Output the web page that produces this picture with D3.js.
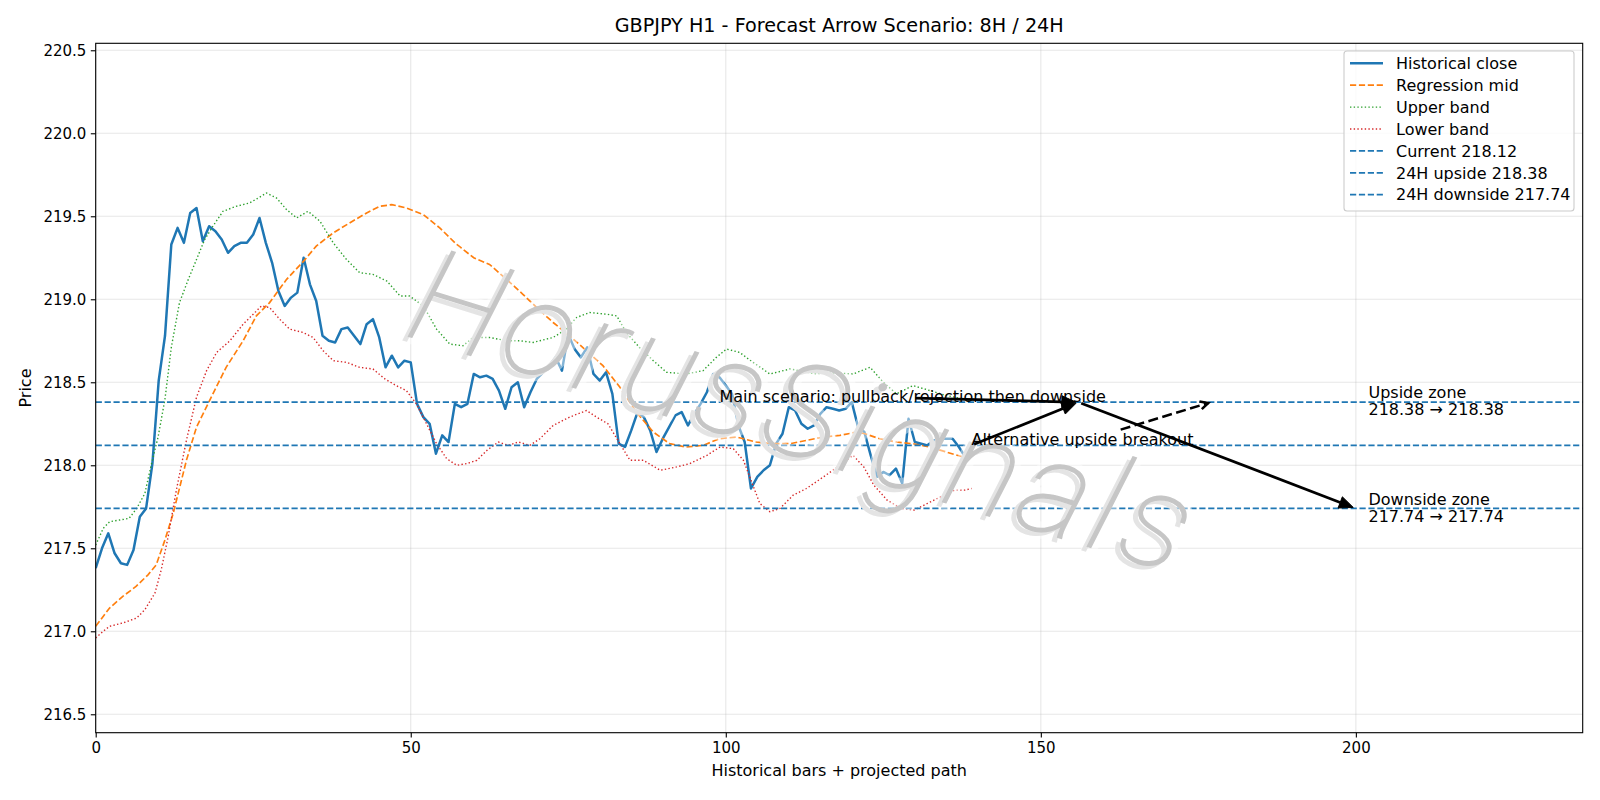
<!DOCTYPE html>
<html>
<head>
<meta charset="utf-8">
<script src="https://cdn.jsdelivr.net/npm/d3@7/dist/d3.min.js"></script>
<style>
  html, body { margin: 0; padding: 0; background: #fff; }
  svg { display: block; font-family: "DejaVu Sans", sans-serif; }
</style>
</head>
<body>
<div id="chart"></div>
<script>
// GBPJPY H1 forecast arrow scenario — matplotlib-style line chart in D3

// ── Data ──
const closePrices = [
  217.38, 217.50, 217.59, 217.47, 217.41, 217.40, 217.49, 217.69, 217.74, 218.01,
  218.51, 218.78, 219.33, 219.43, 219.34, 219.52, 219.55, 219.35, 219.44, 219.41,
  219.36, 219.28, 219.32, 219.34, 219.34, 219.39, 219.49, 219.34, 219.22, 219.05,
  218.96, 219.01, 219.04, 219.25, 219.09, 218.99, 218.78, 218.75, 218.74, 218.82,
  218.83, 218.78, 218.73, 218.85, 218.88, 218.77, 218.59, 218.66, 218.59, 218.63,
  218.62, 218.37, 218.29, 218.25, 218.07, 218.18, 218.14, 218.37, 218.35, 218.37,
  218.55, 218.53, 218.54, 218.52, 218.45, 218.34, 218.47, 218.50, 218.35, 218.44,
  218.52, 218.56, 218.60, 218.65, 218.57, 218.79, 218.70, 218.65, 218.71, 218.55,
  218.51, 218.56, 218.43, 218.13, 218.11, 218.21, 218.32, 218.29, 218.21, 218.08,
  218.16, 218.23, 218.30, 218.32, 218.24, 218.31, 218.37, 218.44, 218.55, 218.53,
  218.48, 218.43, 218.24, 218.14, 217.86, 217.93, 217.97, 218.00, 218.13, 218.19,
  218.35, 218.33, 218.25, 218.22, 218.24, 218.31, 218.35, 218.34, 218.33, 218.34,
  218.38, 218.23, 218.20, 218.06, 217.93, 217.96, 217.94, 217.98, 217.89, 218.28,
  218.14, 218.13, 218.12, 218.15, 218.16, 218.16, 218.16, 218.11, 218.05, 218.12
];

const midBars = [0, 2.2, 4.3, 6.4, 8.3, 9.6, 10.9, 12.3, 14.4, 16, 18.6, 20.7, 23.4, 25.5, 27.6,
  30.3, 33, 35, 37.7, 40.3, 43, 45.1, 47, 49.3, 52, 54.6, 57.3, 60, 62.5, 65.2, 67.8, 70, 72.6,
  75.2, 77.9, 80.5, 83.2, 85.8, 88.5, 91.1, 93.7, 96.4, 99, 101.7, 104.8, 107.5, 110.2, 112.8,
  115.5, 118.1, 120.8, 122.1, 124.4, 127.1, 129.7, 132.4, 135, 137.6, 139];
const midPrices = [217.03, 217.14, 217.21, 217.27, 217.34, 217.40, 217.54, 217.71, 218.03, 218.23,
  218.43, 218.59, 218.75, 218.90, 218.98, 219.12, 219.23, 219.32, 219.40, 219.46, 219.52, 219.56,
  219.57, 219.55, 219.51, 219.43, 219.33, 219.25, 219.21, 219.12, 219.03, 218.95, 218.86, 218.78,
  218.69, 218.60, 218.47, 218.32, 218.20, 218.13, 218.11, 218.12, 218.16, 218.17, 218.14, 218.13,
  218.13, 218.15, 218.17, 218.18, 218.20, 218.19, 218.16, 218.14, 218.13, 218.11, 218.08, 218.05,
  218.05];

const upperBars = [0, 1.2, 2.2, 3.8, 5.3, 6.5, 7.8, 8.8, 9.9, 11, 12, 13.3, 14.7, 16, 17.3, 18.6,
  20.2, 22.3, 24.4, 25.8, 27.1, 28.7, 30.3, 31.9, 33.7, 35.6, 37.7, 39.8, 41.9, 44, 46.2, 48.3,
  49.8, 52, 54.1, 56.2, 58.3, 59.9, 62.5, 65.2, 67.3, 69.4, 72.6, 74.7, 76.3, 78.4, 81.1, 82.7,
  84.2, 86.3, 88.5, 90.6, 93.7, 96.4, 98.5, 100.1, 102.2, 104.3, 107, 110.2, 114.4, 116, 120.2,
  122.9, 125, 127.1, 129.7, 132.4, 135, 139];
const upperPrices = [217.52, 217.62, 217.66, 217.67, 217.68, 217.74, 217.83, 218.00, 218.17, 218.40,
  218.71, 218.98, 219.12, 219.24, 219.36, 219.44, 219.53, 219.56, 219.58, 219.61, 219.64, 219.61,
  219.54, 219.49, 219.53, 219.47, 219.34, 219.24, 219.16, 219.15, 219.11, 219.02, 219.02, 218.96,
  218.82, 218.73, 218.72, 218.77, 218.77, 218.75, 218.75, 218.74, 218.77, 218.82, 218.89, 218.92,
  218.91, 218.90, 218.80, 218.71, 218.63, 218.56, 218.55, 218.57, 218.65, 218.70, 218.68, 218.62,
  218.55, 218.58, 218.55, 218.56, 218.55, 218.59, 218.50, 218.43, 218.48, 218.45, 218.42, 218.39];

const lowerBars = [0, 1.2, 2.2, 4.3, 6.5, 7.8, 9.4, 10.4, 11.5, 12.8, 14.4, 16, 17.6, 19.2, 21.3,
  23.4, 25, 26.3, 27.6, 29.2, 30.8, 32.9, 34.5, 36.1, 37.7, 39.8, 41.9, 44, 45.9, 47.7, 49.3, 50.9,
  52.5, 54.1, 55.7, 57.3, 58.9, 60.5, 62.1, 63.9, 65.5, 67.1, 68.9, 70.5, 72.6, 75.2, 77.9, 79.5,
  81.3, 83.2, 84.8, 86.9, 89.6, 92.2, 94.3, 97, 99.1, 101.2, 102.8, 103.8, 105.4, 107, 108.6,
  110.7, 112.8, 115.5, 118.1, 120.2, 121.9, 123.5, 125.6, 127.8, 129.9, 132, 134.1, 136.3,
  137.9, 139];
const lowerPrices = [216.96, 217.00, 217.03, 217.05, 217.08, 217.13, 217.23, 217.37, 217.57, 217.85,
  218.15, 218.41, 218.57, 218.68, 218.75, 218.85, 218.91, 218.96, 218.95, 218.88, 218.82, 218.80,
  218.77, 218.69, 218.63, 218.62, 218.59, 218.58, 218.52, 218.48, 218.45, 218.37, 218.25, 218.13,
  218.04, 218.00, 218.01, 218.03, 218.09, 218.14, 218.12, 218.14, 218.12, 218.16, 218.24, 218.29,
  218.33, 218.29, 218.25, 218.13, 218.03, 218.03, 217.97, 217.99, 218.01, 218.06, 218.11, 218.10,
  218.03, 217.93, 217.77, 217.72, 217.74, 217.82, 217.86, 217.93, 218.00, 218.06, 217.99, 217.88,
  217.79, 217.74, 217.73, 217.77, 217.81, 217.85, 217.85, 217.86];

const levelLabels = ['Current 218.12', '24H upside 218.38', '24H downside 217.74'];
const levelValues = [218.12, 218.38, 217.74];

const xTicks = [0, 50, 100, 150, 200];
const yTicks = [216.5, 217.0, 217.5, 218.0, 218.5, 219.0, 219.5, 220.0, 220.5];

// scenario points: [bar, price]
const currentPoint = [139, 218.12];
const pivotPoint = [156, 218.38];
const targetPoint = [200, 217.74];
const breakoutTip = [177, 218.38];
const mainTextAt = [99, 218.38];
const zoneLabelBar = 202;

// ── Layout ──
const W = 1600, H = 800;
const margin = { top: 43.3, right: 17.3, bottom: 67.3, left: 95.7 };
const BLUE = '#1f77b4', ORANGE = '#ff7f0e', GREEN = '#2ca02c', RED = '#d62728';
const FS = 16;
const TICK_FS = 15;
const SHRINK = 2.78;       // matplotlib shrinkA/B = 2pt

const xScale = d3.scaleLinear().domain([0, 236]).range([margin.left, W - margin.right]);
const yScale = d3.scaleLinear().domain([216.389, 220.542]).range([H - margin.bottom, margin.top]);

const svg = d3.select('#chart').append('svg').attr('width', W).attr('height', H);

svg.append('defs').append('clipPath').attr('id', 'plot-clip')
  .append('rect')
  .attr('x', margin.left).attr('y', margin.top)
  .attr('width', W - margin.left - margin.right)
  .attr('height', H - margin.top - margin.bottom);

// Grid
const grid = svg.append('g').attr('stroke', '#b0b0b0').attr('stroke-opacity', 0.3).attr('stroke-width', 1.1);
grid.selectAll('.gx').data(xTicks).enter().append('line')
  .attr('x1', d => xScale(d)).attr('x2', d => xScale(d))
  .attr('y1', margin.top).attr('y2', H - margin.bottom);
grid.selectAll('.gy').data(yTicks).enter().append('line')
  .attr('x1', margin.left).attr('x2', W - margin.right)
  .attr('y1', d => yScale(d)).attr('y2', d => yScale(d));

// ── Series ──
const plot = svg.append('g').attr('clip-path', 'url(#plot-clip)');
const line = d3.line().x(d => xScale(d[0])).y(d => yScale(d[1]));

const zip = (xs, ys) => xs.map((x, i) => [x, ys[i]]);

plot.append('path')
  .datum(closePrices.map((v, i) => [i, v]))
  .attr('d', line).attr('fill', 'none')
  .attr('stroke', BLUE).attr('stroke-width', 2.5).attr('stroke-linejoin', 'round');

plot.append('path')
  .datum(zip(midBars, midPrices))
  .attr('d', line).attr('fill', 'none')
  .attr('stroke', ORANGE).attr('stroke-width', 1.67).attr('stroke-dasharray', '6.2,2.7');

plot.append('path')
  .datum(zip(upperBars, upperPrices))
  .attr('d', line).attr('fill', 'none')
  .attr('stroke', GREEN).attr('stroke-width', 1.39).attr('stroke-dasharray', '1.39,2.29');

plot.append('path')
  .datum(zip(lowerBars, lowerPrices))
  .attr('d', line).attr('fill', 'none')
  .attr('stroke', RED).attr('stroke-width', 1.39).attr('stroke-dasharray', '1.39,2.29');

// Horizontal levels
plot.selectAll('.level').data(levelValues).enter().append('line')
  .attr('x1', margin.left).attr('x2', W - margin.right)
  .attr('y1', d => yScale(d)).attr('y2', d => yScale(d))
  .attr('stroke', BLUE).attr('stroke-width', 1.67).attr('stroke-dasharray', '6.2,2.7');

// ── Watermark ──
const wm = svg.append('g')
  .attr('transform', 'translate(789,454) rotate(17.2)')
  .attr('font-family', 'Roboto, Lato, "Open Sans", sans-serif')
  .attr('font-size', 132).attr('font-style', 'italic').attr('font-weight', 100)
  .attr('text-anchor', 'middle');
const wmText = 'HorusSignals';
wm.append('text')
  .attr('textLength', 808).attr('lengthAdjust', 'spacing')
  .attr('fill', 'none').attr('stroke', '#fff').attr('stroke-opacity', 0.45)
  .attr('stroke-width', 14).attr('stroke-linejoin', 'round')
  .text(wmText);
wm.append('text').attr('x', -4).attr('y', 5)
  .attr('textLength', 808).attr('lengthAdjust', 'spacing')
  .attr('fill', '#e4e4e4').attr('stroke', '#e4e4e4').attr('stroke-width', 1.4)
  .text(wmText);
wm.append('text')
  .attr('textLength', 808).attr('lengthAdjust', 'spacing')
  .attr('fill', '#c6c6c6').attr('stroke', '#c6c6c6').attr('stroke-width', 1.4)
  .text(wmText);

// ── Annotations ──
const ann = svg.append('g');

function drawArrow(p0, p1, o) {
  const dx = p1[0] - p0[0], dy = p1[1] - p0[1];
  const len = Math.hypot(dx, dy);
  const ux = dx / len, uy = dy / len, nx = -uy, ny = ux;
  const a = [p0[0] + ux * SHRINK, p0[1] + uy * SHRINK];
  const b = [p1[0] - ux * SHRINK, p1[1] - uy * SHRINK];
  const base = [b[0] - ux * o.head, b[1] - uy * o.head];
  const end = o.filled ? base : b;
  ann.append('line')
    .attr('x1', a[0]).attr('y1', a[1]).attr('x2', end[0]).attr('y2', end[1])
    .attr('stroke', '#000').attr('stroke-width', o.width)
    .attr('stroke-dasharray', o.dash || null);
  const pts = [[base[0] + nx * o.half, base[1] + ny * o.half], b, [base[0] - nx * o.half, base[1] - ny * o.half]];
  ann.append(o.filled ? 'polygon' : 'polyline')
    .attr('points', pts.map(p => p.join(',')).join(' '))
    .attr('fill', o.filled ? '#000' : 'none')
    .attr('stroke', '#000').attr('stroke-width', o.filled ? 1 : o.width)
    .attr('stroke-linejoin', 'miter');
}

// arrow from the centre of a text box, clipped to that box (padded by 4pt);
// box height follows matplotlib's text extent (ascent ~0.76em, descent ~0.24em)
function textArrowStart(textNode, baseline, target) {
  const bb = textNode.getBBox();
  const pad = 2.78;
  const top = baseline - 0.76 * FS, bottom = baseline + 0.24 * FS;
  const r = { x0: bb.x - pad, x1: bb.x + bb.width + pad, y0: top - pad, y1: bottom + pad };
  const c = [bb.x + bb.width / 2, (top + bottom) / 2];
  if (target[0] >= r.x0 && target[0] <= r.x1 && target[1] >= r.y0 && target[1] <= r.y1) return c;
  const dx = target[0] - c[0], dy = target[1] - c[1];
  let s = 1;
  if (dx > 0) s = Math.min(s, (r.x1 - c[0]) / dx);
  if (dx < 0) s = Math.min(s, (r.x0 - c[0]) / dx);
  if (dy > 0) s = Math.min(s, (r.y1 - c[1]) / dy);
  if (dy < 0) s = Math.min(s, (r.y0 - c[1]) / dy);
  return [c[0] + s * dx, c[1] + s * dy];
}

const px = p => [xScale(p[0]), yScale(p[1])];
const solidHead = { filled: true, width: 2.78, head: 14, half: 6 };

const mainText = ann.append('text')
  .attr('x', xScale(mainTextAt[0])).attr('y', yScale(mainTextAt[1]))
  .attr('font-size', FS).attr('fill', '#000')
  .text('Main scenario: pullback/rejection then downside');
drawArrow(textArrowStart(mainText.node(), yScale(mainTextAt[1]), px(pivotPoint)), px(pivotPoint), solidHead);

drawArrow(px(currentPoint), px(pivotPoint), solidHead);
drawArrow(px(pivotPoint), px(targetPoint), solidHead);

const altText = ann.append('text')
  .attr('x', xScale(currentPoint[0])).attr('y', yScale(currentPoint[1]))
  .attr('font-size', FS).attr('fill', '#000')
  .text('Alternative upside breakout');
drawArrow(textArrowStart(altText.node(), yScale(currentPoint[1]), px(breakoutTip)), px(breakoutTip),
  { filled: false, width: 2.5, head: 8, half: 4, dash: '10,4.5' });

// Zone labels
const zones = [['Upside zone', levelValues[1]], ['Downside zone', levelValues[2]]];
zones.forEach(([name, v]) => {
  const t = ann.append('text').attr('font-size', FS).attr('fill', '#000');
  t.append('tspan').attr('x', xScale(zoneLabelBar)).attr('y', yScale(v) - 3.9).text(name);
  t.append('tspan').attr('x', xScale(zoneLabelBar)).attr('y', yScale(v) + 13.2)
    .text(`${v.toFixed(2)} → ${v.toFixed(2)}`);
});

// ── Axes ──
const xAxis = svg.append('g')
  .attr('transform', `translate(0,${H - margin.bottom})`)
  .call(d3.axisBottom(xScale).tickValues(xTicks).tickFormat(d3.format('d')).tickSize(4.9).tickPadding(4.4));
const yAxis = svg.append('g')
  .attr('transform', `translate(${margin.left},0)`)
  .call(d3.axisLeft(yScale).tickValues(yTicks).tickFormat(d => d.toFixed(1)).tickSize(4.9).tickPadding(4.4));

[xAxis, yAxis].forEach(ax => {
  ax.select('.domain').remove();
  ax.selectAll('line').attr('stroke', '#000').attr('stroke-width', 1.1);
  ax.selectAll('text').attr('font-size', TICK_FS).attr('fill', '#000')
    .attr('font-family', '"DejaVu Sans", sans-serif');
});

// Spines
svg.append('rect')
  .attr('x', margin.left).attr('y', margin.top)
  .attr('width', W - margin.left - margin.right)
  .attr('height', H - margin.top - margin.bottom)
  .attr('fill', 'none').attr('stroke', '#000').attr('stroke-width', 1.1);

// Titles
svg.append('text')
  .attr('x', (margin.left + W - margin.right) / 2).attr('y', 32)
  .attr('text-anchor', 'middle').attr('font-size', 19.2)
  .text('GBPJPY H1 - Forecast Arrow Scenario: 8H / 24H');

svg.append('text')
  .attr('x', (margin.left + W - margin.right) / 2).attr('y', 776)
  .attr('text-anchor', 'middle').attr('font-size', FS)
  .text('Historical bars + projected path');

svg.append('text')
  .attr('transform', `translate(31,${(margin.top + H - margin.bottom) / 2}) rotate(-90)`)
  .attr('text-anchor', 'middle').attr('font-size', FS)
  .text('Price');

// ── Legend ──
const legendItems = [
  { label: 'Historical close', color: BLUE, width: 2.5, dash: null },
  { label: 'Regression mid', color: ORANGE, width: 1.67, dash: '6.2,2.7' },
  { label: 'Upper band', color: GREEN, width: 1.39, dash: '1.39,2.29' },
  { label: 'Lower band', color: RED, width: 1.39, dash: '1.39,2.29' },
  ...levelLabels.map(l => ({ label: l, color: BLUE, width: 1.67, dash: '6.2,2.7' }))
];

const legend = svg.append('g');
legend.append('rect')
  .attr('x', 1344).attr('y', 51).attr('width', 230).attr('height', 160).attr('rx', 3)
  .attr('fill', '#fff').attr('fill-opacity', 0.8)
  .attr('stroke', '#cccccc').attr('stroke-width', 1.1);

const rows = legend.selectAll('.row').data(legendItems).enter().append('g')
  .attr('transform', (d, i) => `translate(0,${63.3 + i * 21.9})`);
rows.append('line')
  .attr('x1', 1350).attr('x2', 1383).attr('y1', 0).attr('y2', 0)
  .attr('stroke', d => d.color).attr('stroke-width', d => d.width)
  .attr('stroke-dasharray', d => d.dash);
rows.append('text')
  .attr('x', 1396).attr('y', 0).attr('dy', '0.36em')
  .attr('font-size', FS).text(d => d.label);
</script>
</body>
</html>
